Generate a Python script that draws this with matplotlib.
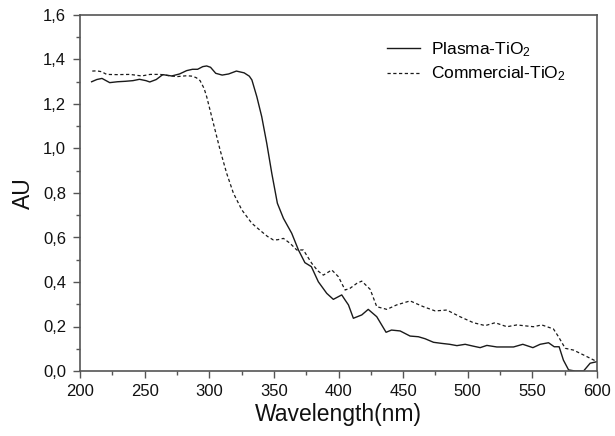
import matplotlib
matplotlib.use('Agg')
import matplotlib.pyplot as plt
from matplotlib.ticker import MultipleLocator, FuncFormatter

plt.rcParams['font.family'] = ['Liberation Sans', 'DejaVu Sans']
plt.rcParams['mathtext.fontset'] = 'custom'
plt.rcParams['mathtext.rm'] = 'Liberation Sans'
plt.rcParams['mathtext.default'] = 'regular'

# data
plasma_nm = [209, 213, 217, 223, 229, 235, 241, 246, 251, 254, 259, 264, 271,
             277, 282.5, 287, 291, 295, 298, 301, 305, 310, 315, 321, 327, 331,
             333, 336.8, 340.6, 344.5, 348.4, 352.7, 357.4, 363.8, 369, 374,
             379, 384.4, 390.9, 396, 402.5, 405, 407.7, 411.5, 418, 423, 429.6,
             436.8, 441, 447.7, 455.4, 461.8, 467, 473.5, 480, 486, 491.6, 498,
             504, 509.6, 514.8, 522.5, 535.4, 542.6, 550.4, 556, 562.5, 566.9,
             570.7, 574, 578, 583, 589.6, 594.7, 600]
plasma_au = [1.30, 1.31, 1.315, 1.296, 1.30, 1.302, 1.305, 1.311, 1.305, 1.299,
             1.31, 1.332, 1.326, 1.335, 1.35, 1.356, 1.356, 1.368, 1.371, 1.365,
             1.338, 1.330, 1.335, 1.348, 1.340, 1.325, 1.308, 1.233, 1.143,
             1.023, 0.888, 0.754, 0.686, 0.619, 0.544, 0.487, 0.469, 0.401,
             0.349, 0.322, 0.342, 0.32, 0.297, 0.237, 0.252, 0.277, 0.244,
             0.174, 0.184, 0.18, 0.157, 0.154, 0.145, 0.129, 0.124, 0.12,
             0.114, 0.12, 0.112, 0.105, 0.115, 0.108, 0.108, 0.12, 0.105, 0.12,
             0.127, 0.109, 0.109, 0.049, 0.005, 0.0, 0.0, 0.035, 0.042]

comm_nm = [209.5, 213, 216.8, 220.6, 228.4, 238.7, 247.7, 254.2, 262, 268,
           274.8, 282.6, 287, 290, 292.9, 296, 298, 303.2, 308.4, 313.5, 318.7,
           325.2, 332.9, 340.6, 345, 349.6, 353, 357.4, 362.5, 367.7, 372.8,
           379.3, 384, 388.3, 394.8, 399.9, 405.1, 409, 414.2, 418, 424.5,
           429.6, 437.4, 445, 455.4, 465.7, 474.8, 483.8, 494, 504.4, 513.5,
           521.2, 530.3, 538, 550.8, 557.3, 566.3, 570.2, 575.4, 581.8, 589.6,
           600]
comm_au = [1.348, 1.349, 1.345, 1.333, 1.332, 1.333, 1.326, 1.333, 1.333,
           1.328, 1.323, 1.327, 1.325, 1.318, 1.305, 1.27, 1.233, 1.113, 0.993,
           0.888, 0.799, 0.724, 0.664, 0.626, 0.605, 0.589, 0.59, 0.596, 0.574,
           0.544, 0.544, 0.484, 0.45, 0.431, 0.454, 0.424, 0.364, 0.372, 0.394,
           0.404, 0.367, 0.289, 0.277, 0.297, 0.315, 0.289, 0.27, 0.274, 0.244,
           0.217, 0.204, 0.217, 0.199, 0.207, 0.199, 0.207, 0.189, 0.154,
           0.102, 0.094, 0.072, 0.042]

_framecol = '#555555'
_linecol = '#1a1a1a'

fig = plt.figure(figsize=(6.15, 4.36), dpi=100)
ax = fig.add_axes([80/615, 1 - 371/436, 517/615, 356/436])

ax.plot(plasma_nm, plasma_au, color=_linecol, lw=1.0, label='Plasma-TiO$_2$')
ax.plot(comm_nm, comm_au, color=_linecol, lw=0.9, dashes=(2.6, 2.0),
        label='Commercial-TiO$_2$')

ax.set_xlim(200, 600)
ax.set_ylim(0, 1.6)
ax.xaxis.set_major_locator(MultipleLocator(50))
ax.xaxis.set_minor_locator(MultipleLocator(25))
ax.yaxis.set_major_locator(MultipleLocator(0.2))
ax.yaxis.set_minor_locator(MultipleLocator(0.1))
ax.yaxis.set_major_formatter(FuncFormatter(lambda v, p: f'{v:.1f}'.replace('.', ',')))

for s in ax.spines.values():
    s.set_color(_framecol)
    s.set_linewidth(1.2)
ax.tick_params(which='both', direction='out', color=_framecol, width=1.0,
               top=False, right=False, labelsize=12, labelcolor='#111111')
ax.tick_params(which='major', length=5)
ax.tick_params(which='minor', length=2.8)
ax.tick_params(axis='y', which='major', pad=5)
ax.tick_params(axis='x', which='major', pad=4)

ax.set_xlabel('Wavelength(nm)', fontsize=16.5, color='#111111', labelpad=3)
ax.set_ylabel('AU', fontsize=16.5, color='#111111', labelpad=6)

leg = ax.legend(loc='upper left', bbox_to_anchor=(0.594, 0.93), frameon=False,
                fontsize=12.5, handlelength=1.9, handletextpad=0.65,
                labelspacing=0.35, borderpad=0, borderaxespad=0)

fig.savefig('out.png', dpi=100)
